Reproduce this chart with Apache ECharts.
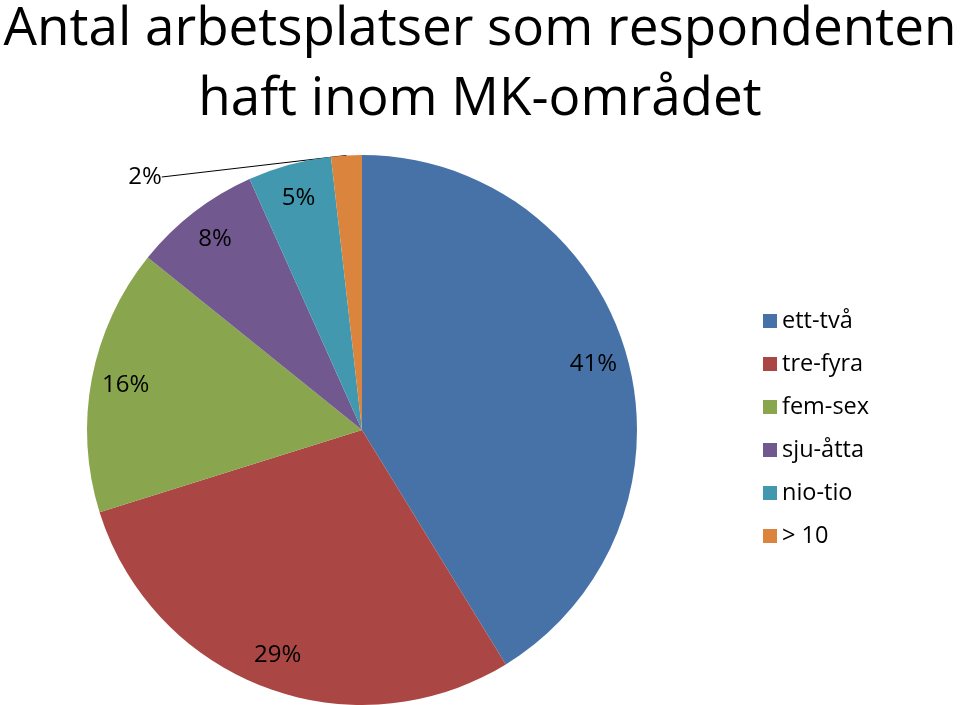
<!DOCTYPE html>
<html><head><meta charset="utf-8">
<script src="https://cdn.jsdelivr.net/npm/echarts@6/dist/echarts.min.js"></script>
<style>html,body{margin:0;padding:0;background:#fff}#c{width:960px;height:705px}</style>
</head><body><div id="c"></div>
<script>
const titleLines = ['Antal arbetsplatser som respondenten', 'haft inom MK-området'];
const categories = ['ett-två', 'tre-fyra', 'fem-sex', 'sju-åtta', 'nio-tio', '> 10'];
const values = [41.2, 28.9, 15.6, 7.5, 4.9, 1.8];
const colors = ['#4672A8', '#AA4643', '#89A54E', '#71588F', '#4198AF', '#DB843D'];

const FONT = 'Open Sans';
const total = values.reduce((a, b) => a + b, 0);
const pct = v => Math.round(v / total * 100) + '%';
const data = categories.map((n, i) => ({ name: n, value: values[i] }));

const chart = echarts.init(document.getElementById('c'));
chart.setOption({
  animation: false,
  color: colors,
  title: {
    text: titleLines.join('\n'),
    left: 'center', top: -10,
    textStyle: { fontFamily: FONT, fontSize: 53, fontWeight: 'normal', color: '#000', lineHeight: 70 }
  },
  legend: {
    orient: 'vertical', left: 758, top: 304,
    icon: 'rect', itemWidth: 14, itemHeight: 14, itemGap: 19,
    textStyle: { fontFamily: FONT, fontSize: 23.5, color: '#000' },
    data: categories
  },
  series: [
    {
      type: 'pie', name: 'main',
      center: [362, 430], radius: [0, 275],
      startAngle: 90, clockwise: true,
      label: { show: false }, labelLine: { show: false },
      itemStyle: { borderWidth: 0 },
      emphasis: { disabled: true },
      data: data
    },
    {
      type: 'pie', name: 'labels', silent: true,
      center: [362, 430], radius: [200, 275],
      startAngle: 90, clockwise: true,
      itemStyle: { color: 'transparent', borderWidth: 0 },
      label: {
        show: true, position: 'inside', color: '#000',
        fontFamily: FONT, fontSize: 24,
        formatter: p => pct(p.value)
      },
      labelLine: { show: false },
      emphasis: { disabled: true },
      data: data.map((d, i) => i === 5 ? Object.assign({}, d, {
        label: { position: 'outside' },
        labelLine: { show: true, length: 0, length2: 0, lineStyle: { color: '#000', width: 1 } }
      }) : d),
      labelLayout: p => p.dataIndex === 5 ? { x: 145, y: 177, align: 'center', verticalAlign: 'middle' } : {}
    }
  ]
});
</script></body></html>
